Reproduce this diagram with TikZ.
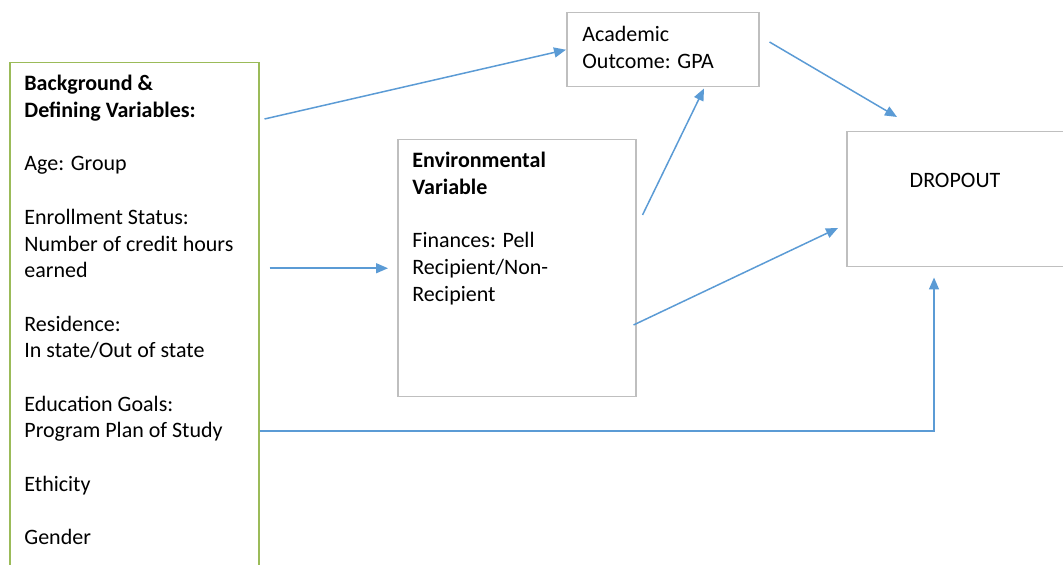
\documentclass[tikz,border=0pt]{standalone}
\usepackage{fontspec}
\setmainfont{Carlito}
\usetikzlibrary{arrows.meta,calc}
\definecolor{boxgray}{RGB}{191,191,191}
\definecolor{boxgreen}{RGB}{155,187,89}
\definecolor{arrblue}{RGB}{91,155,213}
\tikzset{
  box/.style={draw=boxgray, line width=0.75pt, anchor=north west, inner sep=0pt},
  txt/.style={font=\fontsize{11}{13.35}\selectfont, align=left, inner sep=0pt, anchor=north west},
  arr/.style={draw=arrblue, line width=0.75pt, -{Triangle[length=6pt,width=5pt]}}
}

\begin{document}
\begin{tikzpicture}[x=0.5pt,y=-0.5pt]
  \useasboundingbox (0,0) rectangle (1063,565);
  \clip (0,0) rectangle (1063,565);
  \node[box, draw=boxgreen, minimum width=124.5pt, minimum height=269pt] (bg) at (9,62) {};
  \node[box, minimum width=96pt, minimum height=37pt] (acad) at (566,12) {};
  \node[box, minimum width=119pt, minimum height=128.5pt] (env) at (397,139) {};
  \node[box, minimum width=109pt, minimum height=67.5pt] (drop) at (846,131) {};
  \node[txt] (bgtxt) at (24,75) {\textbf{Background \&}\\ \textbf{Defining Variables:}\\[13.35pt]
    Age: Group\\[13.35pt] Enrollment Status:\\ Number of credit hours\\ earned\\[13.35pt]
    Residence:\\ In state/Out of state\\[13.35pt] Education Goals:\\ Program Plan of Study\\[13.35pt]
    Ethicity\\[13.35pt] Gender};
  \node[txt] (envtxt) at (412,152) {\textbf{Environmental}\\ \textbf{Variable}\\[13.35pt]
    Finances: Pell\\ Recipient/Non-\\ Recipient};
  \node[txt] (acadtxt) at (582,26) {Academic\\ Outcome: GPA};
  \node[txt, anchor=base] (droptxt) at (955,188) {DROPOUT};
  \draw[arr] ($(bg.north east)+(5,57)$) -- (acad.west);
  \draw[arr, shorten <=5pt, shorten >=4.5pt] (bg.east |- env.west) -- (env.west);
  \draw[arr] ($(env.north east)+(6,76)$) -- ($(acad.south west)+(138,1)$);
  \draw[arr] ($(env.north east)+(-3,186)$) -- ($(drop.north west)+(-8,97)$);
  \draw[arr] ($(acad.north east)+(10,30)$) -- ($(drop.north west)+(51,-14)$);
  \draw[arr, shorten >=5pt] ($(bg.north east)+(0,369)$) -| ($(drop.south west)+(88,0)$);
\end{tikzpicture}
\end{document}
